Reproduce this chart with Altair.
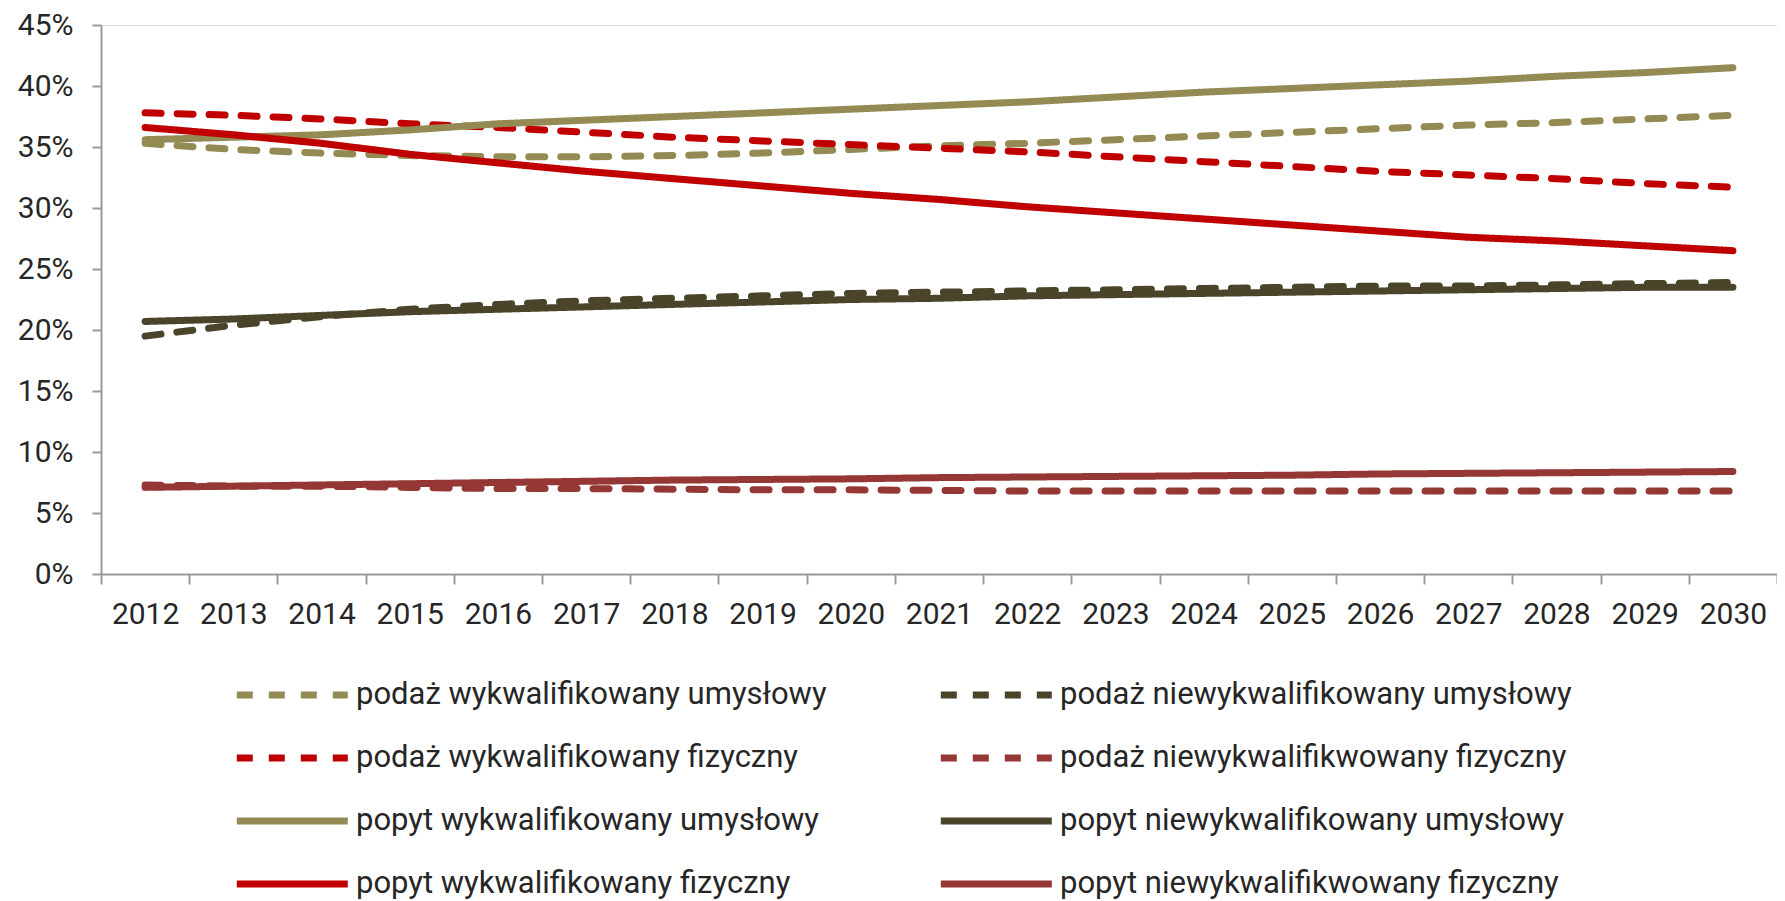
import altair as alt
import pandas as pd

years = [str(y) for y in range(2012, 2031)]

# order: legend fills column by column (left column first)
series_names = [
    "podaż wykwalifikowany umysłowy",
    "podaż wykwalifikowany fizyczny",
    "popyt wykwalifikowany umysłowy",
    "popyt wykwalifikowany fizyczny",
    "podaż niewykwalifikowany umysłowy",
    "podaż niewykwalifikwowany fizyczny",
    "popyt niewykwalifikowany umysłowy",
    "popyt niewykwalifikwowany fizyczny",
]

podaz_wyk_umyslowy = [35.3, 34.8, 34.5, 34.3, 34.2, 34.2, 34.3, 34.5, 34.8, 35.1,
                      35.3, 35.6, 35.9, 36.2, 36.5, 36.8, 37.0, 37.3, 37.6]
podaz_wyk_fizyczny = [37.8, 37.6, 37.3, 36.9, 36.6, 36.2, 35.8, 35.5, 35.2, 34.9,
                      34.6, 34.2, 33.8, 33.4, 33.0, 32.7, 32.4, 32.0, 31.7]
popyt_wyk_umyslowy = [35.6, 35.8, 36.0, 36.4, 36.9, 37.2, 37.5, 37.8, 38.1, 38.4,
                      38.7, 39.1, 39.5, 39.8, 40.1, 40.4, 40.8, 41.1, 41.5]
popyt_wyk_fizyczny = [36.6, 36.0, 35.3, 34.4, 33.7, 33.0, 32.4, 31.8, 31.2, 30.7,
                      30.1, 29.6, 29.1, 28.6, 28.1, 27.6, 27.3, 26.9, 26.5]
podaz_niewyk_umyslowy = [19.5, 20.4, 21.1, 21.7, 22.1, 22.4, 22.6, 22.8, 23.0, 23.1,
                         23.2, 23.3, 23.4, 23.5, 23.6, 23.6, 23.7, 23.8, 23.9]
podaz_niewyk_fizyczny = [7.3, 7.2, 7.2, 7.1, 7.0, 7.0, 6.95, 6.9, 6.9, 6.85,
                         6.8, 6.8, 6.8, 6.8, 6.8, 6.8, 6.8, 6.8, 6.8]
popyt_niewyk_umyslowy = [20.7, 20.9, 21.2, 21.5, 21.7, 21.9, 22.1, 22.3, 22.5, 22.6,
                         22.8, 22.9, 23.0, 23.1, 23.2, 23.3, 23.4, 23.5, 23.5]
popyt_niewyk_fizyczny = [7.1, 7.2, 7.3, 7.4, 7.5, 7.6, 7.7, 7.75, 7.8, 7.9,
                         7.95, 8.0, 8.05, 8.1, 8.2, 8.25, 8.3, 8.35, 8.4]

series_values = [
    podaz_wyk_umyslowy, podaz_wyk_fizyczny, popyt_wyk_umyslowy, popyt_wyk_fizyczny,
    podaz_niewyk_umyslowy, podaz_niewyk_fizyczny, popyt_niewyk_umyslowy, popyt_niewyk_fizyczny,
]

colors = ["#948A54", "#C00000", "#948A54", "#C00000",
          "#4A452A", "#953735", "#4A452A", "#953735"]
dashes = [[16, 16], [16, 16], [1, 0], [1, 0], [16, 16], [16, 16], [1, 0], [1, 0]]

y_ticks = [0, 0.05, 0.10, 0.15, 0.20, 0.25, 0.30, 0.35, 0.40, 0.45]

rows = []
for name, vals in zip(series_names, series_values):
    for yr, v in zip(years, vals):
        rows.append({"year": yr, "value": v / 100.0, "series": name})
df = pd.DataFrame(rows)

FONT = "Roboto"
FS = 30
TXT = "#262626"
AX = "#9a9a9a"

legend = alt.Legend(
    title=None, orient="none", legendX=132, legendY=644, columns=2,
    columnPadding=99, rowPadding=22, symbolType="M-1,0H4", symbolSize=1971,
    symbolStrokeWidth=7, labelFontSize=31, labelFont=FONT, labelColor=TXT,
    labelOffset=71, padding=0, labelLimit=1000,
)

chart = alt.Chart(df).mark_line(strokeWidth=7, strokeCap="round", strokeJoin="round").encode(
    x=alt.X("year:O", sort=years,
            scale=alt.Scale(type="band", paddingInner=0, paddingOuter=0),
            axis=alt.Axis(title=None, labelAngle=0, tickBand="extent", tickSize=10,
                          labelPadding=15, labelFont=FONT, labelFontSize=FS, labelColor=TXT,
                          domainColor=AX, tickColor=AX, domainWidth=2, tickWidth=2, grid=False)),
    y=alt.Y("value:Q", scale=alt.Scale(domain=[0, 0.45], nice=False, zero=True),
            axis=alt.Axis(title=None, format=".0%", values=y_ticks, grid=False, tickSize=9,
                          labelPadding=19, labelFont=FONT, labelFontSize=FS, labelColor=TXT,
                          domainColor=AX, tickColor=AX, domainWidth=2, tickWidth=2)),
    color=alt.Color("series:N", sort=series_names,
                    scale=alt.Scale(domain=series_names, range=colors), legend=legend),
    strokeDash=alt.StrokeDash("series:N", sort=series_names,
                              scale=alt.Scale(domain=series_names, range=dashes), legend=legend),
).properties(
    width=1676, height=549,
    autosize=alt.AutoSizeParams(type="none"),
    padding={"left": 93, "top": 17, "right": 0, "bottom": 327},
).configure_view(stroke=None).configure(background="white")

chart.save("out.html", embed_options={"renderer": "svg", "actions": False})
